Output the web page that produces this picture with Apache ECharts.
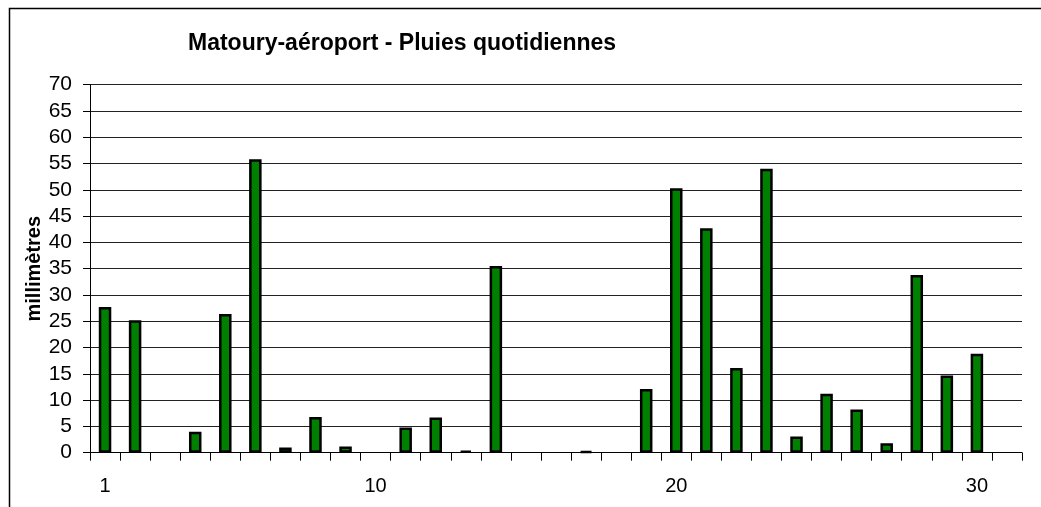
<!DOCTYPE html>
<html>
<head>
<meta charset="utf-8">
<script src="https://cdn.jsdelivr.net/npm/echarts@6/dist/echarts.min.js"></script>
<style>html,body{margin:0;padding:0;background:#fff;}#c{width:1041px;height:507px;}</style>
</head>
<body>
<div id="c"></div>
<script>
const days = Array.from({length: 31}, (_, i) => String(i + 1));
const shownLabels = ['1', '10', '20', '30'];
const rain = [27.7, 25.2, 0, 4.0, 26.4, 55.8, 1.0, 6.8, 1.2, 0, 4.8, 6.7, 0.4, 35.5, 0, 0, 0.3, 0, 12.1, 50.3, 42.7, 16.1, 54.0, 3.1, 11.2, 8.2, 1.8, 33.8, 14.7, 18.8, 0];
const yTicks = {min: 0, max: 70, interval: 5};

const chart = echarts.init(document.getElementById('c'), null, {renderer: 'canvas'});
const font = 'Liberation Sans, Arial, sans-serif';
chart.setOption({
  animation: false,
  backgroundColor: '#fff',
  textStyle: {fontFamily: font},
  graphic: [{
    type: 'rect', left: 7, top: 6, silent: true,
    shape: {width: 1100, height: 600},
    style: {fill: 'none', stroke: '#000', lineWidth: 1.5}
  }],
  title: {
    text: 'Matoury-aéroport - Pluies quotidiennes',
    left: 183, top: 27,
    textStyle: {fontFamily: font, fontSize: 23, fontWeight: 'bold', color: '#000'}
  },
  grid: {left: 90, right: 19, top: 84.7, bottom: 54.3, containLabel: false},
  xAxis: {
    type: 'category',
    data: days,
    boundaryGap: true,
    axisLine: {lineStyle: {color: '#000', width: 1}},
    axisTick: {show: true, interval: 0, length: 8, lineStyle: {color: '#000'}},
    axisLabel: {
      interval: 0,
      margin: 24,
      fontSize: 20,
      color: '#000',
      fontFamily: font,
      formatter: v => shownLabels.includes(v) ? v : ''
    },
    splitLine: {show: false}
  },
  yAxis: {
    type: 'value',
    min: yTicks.min, max: yTicks.max, interval: yTicks.interval,
    name: 'millimètres',
    nameLocation: 'middle',
    nameGap: 46,
    nameMoveOverlap: false,
    nameTextStyle: {fontFamily: font, fontSize: 20, fontWeight: 'bold', color: '#000'},
    axisLine: {show: true, lineStyle: {color: '#000', width: 1}},
    axisTick: {show: true, length: 7, lineStyle: {color: '#000'}},
    axisLabel: {margin: 18, fontSize: 21, color: '#000', fontFamily: font},
    splitLine: {show: true, lineStyle: {color: '#222', width: 1}}
  },
  series: [{
    type: 'bar',
    data: rain.map(v => v === 0 ? '-' : v),
    barWidth: 12.5,
    itemStyle: {color: '#008000', borderColor: '#000', borderWidth: 2.5}
  }]
});
</script>
</body>
</html>
